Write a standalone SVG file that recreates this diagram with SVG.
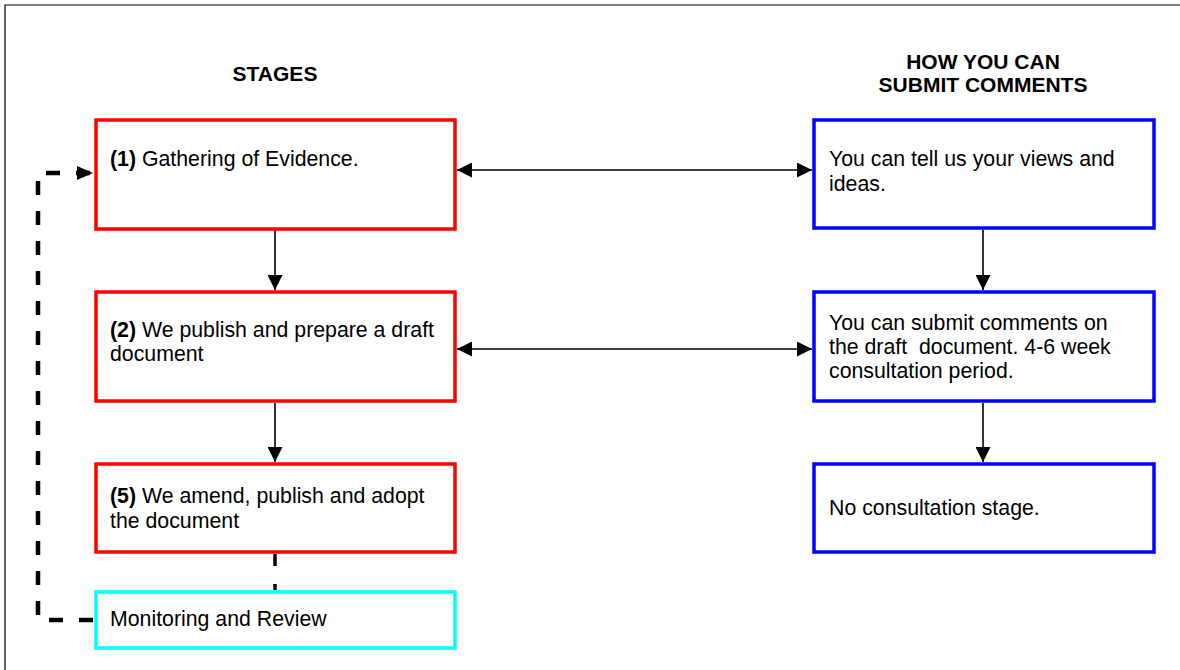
<svg xmlns="http://www.w3.org/2000/svg" width="1180" height="670" viewBox="0 0 1180 670">
  <defs>
    <style>
      .frame { fill: none; stroke: #000; stroke-width: 1.2; }
      .stage { fill: #fff; stroke: #ff0000; stroke-width: 3.5; }
      .submit { fill: #fff; stroke: #0000ff; stroke-width: 3.5; }
      .review { fill: #fff; stroke: #00ffff; stroke-width: 3.5; }
      .txt { font-family: "Liberation Sans", Arial, sans-serif; font-size: 21.3px; fill: #000; }
      .head { font-family: "Liberation Sans", Arial, sans-serif; font-size: 21px; font-weight: bold; fill: #000; text-anchor: middle; }
      .b { font-weight: bold; }
      .link { fill: none; stroke: #000; stroke-width: 1.6; }
      .dash { fill: none; stroke: #000; stroke-width: 4.5; stroke-dasharray: 14 16; }
      .dash-s { fill: none; stroke: #000; stroke-width: 3.5; stroke-dasharray: 12 18; }
    </style>
    <marker id="arrow" markerUnits="userSpaceOnUse" markerWidth="15" markerHeight="15" refX="15" refY="7.5" orient="auto-start-reverse">
      <path d="M0,0 L15,7.5 L0,15 z" fill="#000"/>
    </marker>
    <marker id="arrow-loop" markerUnits="userSpaceOnUse" markerWidth="16" markerHeight="14" refX="16" refY="7" orient="auto">
      <path d="M0,0 L16,7 L0,14 z" fill="#000"/>
    </marker>
  </defs>

  <!-- page frame -->
  <path class="frame" d="M5,670 V5 H1180"/>

  <!-- column headings -->
  <text class="head" x="275" y="81">STAGES</text>
  <text class="head" x="983" y="69">HOW YOU CAN</text>
  <text class="head" x="983" y="92">SUBMIT COMMENTS</text>

  <!-- connectors -->
  <g id="connectors">
    <line class="link" x1="457" y1="170" x2="812" y2="170" marker-start="url(#arrow)" marker-end="url(#arrow)"/>
    <line class="link" x1="457" y1="349" x2="812" y2="349" marker-start="url(#arrow)" marker-end="url(#arrow)"/>
    <line class="link" x1="275" y1="230" x2="275" y2="290" marker-end="url(#arrow)"/>
    <line class="link" x1="275" y1="403" x2="275" y2="462" marker-end="url(#arrow)"/>
    <line class="link" x1="983" y1="230" x2="983" y2="290" marker-end="url(#arrow)"/>
    <line class="link" x1="983" y1="403" x2="983" y2="462" marker-end="url(#arrow)"/>
    <line class="dash-s" x1="275" y1="554" x2="275" y2="590"/>
    <path class="dash" d="M93,620 H38 V173 H93" marker-end="url(#arrow-loop)"/>
  </g>

  <!-- stages -->
  <g id="stage-1">
    <rect class="stage" x="96" y="120" width="359" height="109"/>
    <text class="txt" x="110" y="166"><tspan class="b">(1)</tspan> Gathering of Evidence.</text>
  </g>
  <g id="stage-2">
    <rect class="stage" x="96" y="292" width="359" height="109"/>
    <text class="txt" x="110" y="337"><tspan class="b">(2)</tspan> We publish and prepare a draft</text>
    <text class="txt" x="110" y="361">document</text>
  </g>
  <g id="stage-5">
    <rect class="stage" x="96" y="464" width="359" height="88"/>
    <text class="txt" x="110" y="503"><tspan class="b">(5)</tspan> We amend, publish and adopt</text>
    <text class="txt" x="110" y="528">the document</text>
  </g>
  <g id="monitoring">
    <rect class="review" x="96" y="592" width="359" height="56"/>
    <text class="txt" x="110" y="626">Monitoring and Review</text>
  </g>

  <!-- ways to comment -->
  <g id="comment-1">
    <rect class="submit" x="814" y="120" width="340" height="108"/>
    <text class="txt" x="829" y="166">You can tell us your views and</text>
    <text class="txt" x="829" y="191">ideas.</text>
  </g>
  <g id="comment-2">
    <rect class="submit" x="814" y="292" width="340" height="109"/>
    <text class="txt" x="829" y="330">You can submit comments on</text>
    <text class="txt" x="829" y="354" xml:space="preserve">the draft  document. 4-6 week</text>
    <text class="txt" x="829" y="378">consultation period.</text>
  </g>
  <g id="comment-3">
    <rect class="submit" x="814" y="464" width="340" height="88"/>
    <text class="txt" x="829" y="515">No consultation stage.</text>
  </g>
</svg>
